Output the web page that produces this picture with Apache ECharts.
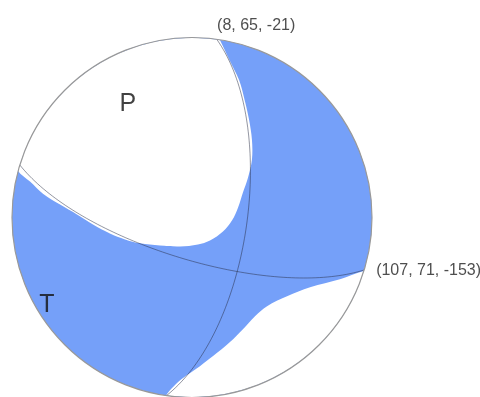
<!DOCTYPE html>
<html>
<head>
<meta charset="utf-8">
<script src="https://cdn.jsdelivr.net/npm/echarts@6/dist/echarts.min.js"></script>
<style>
  html, body { margin: 0; padding: 0; background: #fff; }
  #chart { width: 480px; height: 397px; }
</style>
</head>
<body>
<div id="chart"></div>
<script>
// nodal planes: strike, dip, rake
const planes = [
  [8, 65, -21],
  [107, 71, -153]
]
// P / T axis labels, position in projected (unit circle) coords
const axisLabels = [
  ['P', -0.356, 0.633],
  ['T', -0.806, -0.489]
]
// dilatational (white) regions, boundary, unit circle coords
// each boundary runs from one point on the rim to another, the rim closes it
const whiteUpper = [
  [-0.967, 0.261], [-0.900, 0.200], [-0.828, 0.133], [-0.733, 0.072],
  [-0.639, 0.017], [-0.550, -0.039], [-0.456, -0.089], [-0.372, -0.122],
  [-0.289, -0.144], [-0.178, -0.156], [-0.067, -0.161], [0.033, -0.150],
  [0.100, -0.128], [0.172, -0.078], [0.222, -0.017], [0.256, 0.056],
  [0.283, 0.139], [0.311, 0.222], [0.333, 0.322], [0.333, 0.433],
  [0.317, 0.544], [0.292, 0.656], [0.261, 0.767], [0.208, 0.878],
  [0.156, 0.988]
]
const whiteLower = [
  [0.950, -0.300], [0.822, -0.344], [0.656, -0.389], [0.528, -0.439],
  [0.417, -0.494], [0.350, -0.550], [0.283, -0.622], [0.211, -0.694],
  [0.117, -0.772], [0.044, -0.828], [-0.028, -0.878], [-0.089, -0.928],
  [-0.139, -0.983]
]
const regions = [whiteUpper, whiteLower]

const deg = Math.PI / 180
const blue = '#75a0f9'

// lower hemisphere, equal-area projection of a plane
function greatCircle (strike, dip) {
  const s = strike * deg
  const d = dip * deg
  const sv = [Math.cos(s), Math.sin(s), 0]
  const dv = [Math.cos(d) * Math.cos(s + Math.PI / 2), Math.cos(d) * Math.sin(s + Math.PI / 2), Math.sin(d)]
  const pts = []
  for (let t = 0; t <= 180; t += 2) {
    const a = t * deg
    const v = [0, 1, 2].map(k => Math.cos(a) * sv[k] + Math.sin(a) * dv[k])
    const plunge = Math.asin(Math.min(1, Math.max(-1, v[2])))
    const trend = Math.atan2(v[1], v[0])
    const r = Math.SQRT2 * Math.sin((Math.PI / 2 - plunge) / 2)
    pts.push([r * Math.sin(trend), r * Math.cos(trend)])
  }
  return pts
}

// close a region along the rim, from its last point back to its first
function closeOnRim (pts) {
  const a0 = Math.atan2(pts[pts.length - 1][1], pts[pts.length - 1][0])
  let a1 = Math.atan2(pts[0][1], pts[0][0])
  if (a1 < a0) a1 += Math.PI * 2
  const out = pts.slice()
  for (let a = a0; a < a1; a += 2 * deg) out.push([Math.cos(a), Math.sin(a)])
  return out
}

const chart = echarts.init(document.getElementById('chart'))

const option = {
  animation: false,
  grid: { left: 12, top: 38, width: 360, height: 360 },
  xAxis: { type: 'value', min: -1, max: 1, show: false },
  yAxis: { type: 'value', min: -1, max: 1, show: false },
  series: [
    {
      type: 'custom',
      silent: true,
      z: 1,
      data: [0, 1, 2],
      renderItem (params, api) {
        const i = params.dataIndex
        if (i === 0) {
          const c = api.coord([0, 0])
          const r = api.coord([1, 0])[0] - c[0]
          return { type: 'circle', shape: { cx: c[0], cy: c[1], r: r }, style: { fill: blue } }
        }
        const pts = closeOnRim(regions[i - 1]).map(p => api.coord(p))
        return { type: 'polygon', shape: { points: pts, smooth: 0.35 }, style: { fill: '#fff' } }
      }
    },
    ...planes.map(p => ({
      type: 'line',
      silent: true,
      z: 2,
      showSymbol: false,
      data: greatCircle(p[0], p[1]),
      lineStyle: { color: 'rgba(40,45,70,0.5)', width: 1 }
    })),
    {
      type: 'custom',
      silent: true,
      z: 3,
      data: [0],
      renderItem (params, api) {
        const c = api.coord([0, 0])
        const r = api.coord([1, 0])[0] - c[0]
        return { type: 'circle', shape: { cx: c[0], cy: c[1], r: r }, style: { fill: 'none', stroke: '#999', lineWidth: 1.2 } }
      }
    },
    {
      // strike labels on the rim
      type: 'scatter',
      silent: true,
      z: 4,
      symbolSize: 0,
      data: planes.map((p, i) => ({
        value: [Math.sin(p[0] * deg), Math.cos(p[0] * deg)],
        label: {
          show: true,
          position: 'inside',
          align: 'left',
          verticalAlign: 'middle',
          offset: i === 0 ? [0, -14] : [12, 1],
          formatter: '(' + p.join(', ') + ')',
          fontFamily: 'Liberation Sans, Arial, sans-serif',
          fontSize: 16,
          color: '#222'
        }
      }))
    },
    {
      type: 'scatter',
      silent: true,
      z: 4,
      symbolSize: 0,
      data: axisLabels.map(a => ({
        value: [a[1], a[2]],
        label: {
          show: true,
          position: 'inside',
          formatter: a[0],
          fontFamily: 'Liberation Sans, Arial, sans-serif',
          fontSize: 25,
          color: '#111'
        }
      }))
    }
  ]
}
chart.setOption(option)
</script>
</body>
</html>
